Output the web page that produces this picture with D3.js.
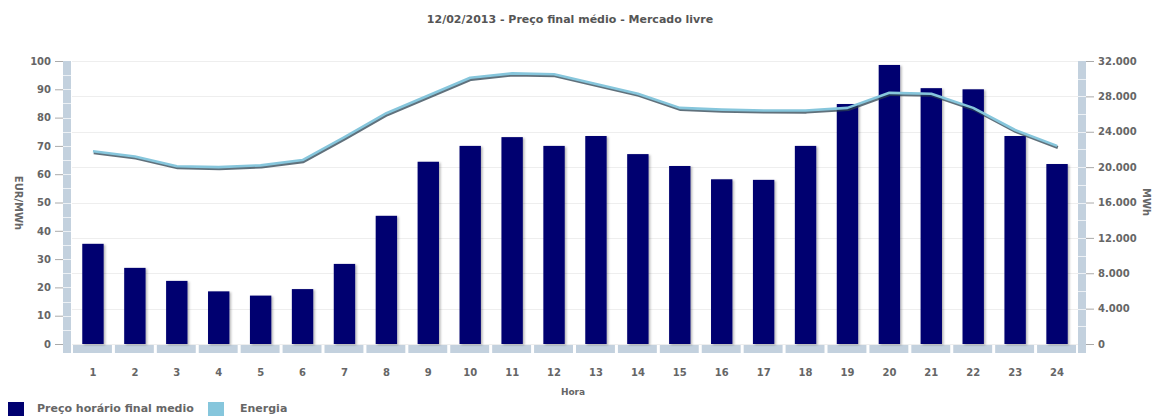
<!DOCTYPE html>
<html>
<head>
<meta charset="utf-8">
<script src="https://cdn.jsdelivr.net/npm/d3@7"></script>
<style>
  html, body { margin: 0; padding: 0; background: #fff; }
  svg { display: block; font-family: "DejaVu Sans", Verdana, sans-serif; }
</style>
</head>
<body>
<svg id="chart" width="1152" height="416"></svg>
<script>
// Hourly average final price (EUR/MWh) and energy (MWh), 12/02/2013
const hours = d3.range(1, 25).map(String);
const precoHorario = [35.4, 26.9, 22.3, 18.6, 17.1, 19.4, 28.3, 45.3, 64.4, 70.0, 73.1, 70.0,
                      73.5, 67.1, 62.9, 58.2, 58.0, 70.0, 84.8, 98.6, 90.4, 90.0, 73.5, 63.6];
const energia = [21800, 21200, 20100, 20000, 20200, 20800, 23400, 26100, 28100, 30100, 30600, 30500,
                 29400, 28300, 26700, 26500, 26400, 26400, 26700, 28400, 28300, 26700, 24200, 22400];
const leftTicks = [0, 10, 20, 30, 40, 50, 60, 70, 80, 90, 100];
const rightTicks = [0, 4000, 8000, 12000, 16000, 20000, 24000, 28000, 32000];

const titleText = "12/02/2013 - Preço final médio - Mercado livre";
const legendLabels = ["Preço horário final medio", "Energia"];

const barColor = "#000070";
const lineColor = "#86c6dc";
const bandColor = "#c3d1de";
const labelColor = "#666";

const svg = d3.select("#chart");
const plot = { left: 72, right: 1078, top: 61, bottom: 344 };

const x = d3.scaleBand().domain(hours).range([plot.left, plot.right])
  .paddingInner(0.49).paddingOuter(0.245);
const step = x.step();
const yL = d3.scaleLinear().domain([0, 100]).range([plot.bottom, plot.top]);
const yR = d3.scaleLinear().domain([0, 32000]).range([plot.bottom, plot.top]);

const defs = svg.append("defs");
const sh = defs.append("filter").attr("id", "barShadow")
  .attr("x", "-20%").attr("y", "-5%").attr("width", "150%").attr("height", "115%");
sh.append("feDropShadow").attr("dx", 1.5).attr("dy", 1).attr("stdDeviation", 1)
  .attr("flood-color", "#000").attr("flood-opacity", 0.3);

// Title
svg.append("text").attr("x", 570).attr("y", 23).attr("text-anchor", "middle")
  .attr("font-size", 11).attr("font-weight", "bold").attr("fill", "#555").text(titleText);

// Grid lines follow the right axis
svg.append("g").selectAll("line").data(rightTicks).join("line")
  .attr("x1", plot.left).attr("x2", plot.right)
  .attr("y1", d => Math.round(yR(d)) + 0.5).attr("y2", d => Math.round(yR(d)) + 0.5)
  .attr("stroke", "#eeeeee").attr("stroke-width", 1);

// Axis bands (left, right, bottom segments per hour)
const bandBottom = 353;
const bands = svg.append("g");
bands.append("rect").attr("x", 63).attr("y", plot.top).attr("width", 8)
  .attr("height", bandBottom - plot.top).attr("fill", bandColor);
bands.append("rect").attr("x", 1078).attr("y", plot.top).attr("width", 8)
  .attr("height", bandBottom - plot.top).attr("fill", bandColor);
bands.selectAll("rect.seg").data(hours).join("rect").attr("class", "seg")
  .attr("x", d => x(d) - step * 0.245 + 1).attr("y", 345)
  .attr("width", step - 3).attr("height", 8).attr("fill", bandColor);
// minor divisions inside the vertical bands
bands.append("g").selectAll("line").data(d3.range(5, 100, 5)).join("line")
  .attr("x1", 63).attr("x2", 71)
  .attr("y1", d => Math.round(yL(d)) + 0.5).attr("y2", d => Math.round(yL(d)) + 0.5)
  .attr("stroke", "#fff").attr("stroke-opacity", 0.7);
bands.append("g").selectAll("line").data(d3.range(2000, 32000, 2000)).join("line")
  .attr("x1", 1078).attr("x2", 1086)
  .attr("y1", d => Math.round(yR(d)) + 0.5).attr("y2", d => Math.round(yR(d)) + 0.5)
  .attr("stroke", "#fff").attr("stroke-opacity", 0.7);

// Left axis
const axL = svg.append("g").attr("transform", "translate(63,0)")
  .call(d3.axisLeft(yL).tickValues(leftTicks).tickSize(8).tickPadding(4));
// Right axis
const fmt = d => d3.format(",")(d).replace(/,/g, ".");
const axR = svg.append("g").attr("transform", "translate(1086,0)")
  .call(d3.axisRight(yR).tickValues(rightTicks).tickFormat(fmt).tickSize(8).tickPadding(4));
// Bottom axis
const axB = svg.append("g").attr("transform", `translate(0,${bandBottom})`)
  .call(d3.axisBottom(x).tickSize(0).tickPadding(16));

[axL, axR, axB].forEach(g => {
  g.select(".domain").remove();
  g.selectAll(".tick line").attr("stroke", "#aaa");
  g.selectAll(".tick text").attr("font-size", 10).attr("font-weight", "bold")
    .attr("fill", labelColor).attr("font-family", "DejaVu Sans, Verdana, sans-serif");
});

// Axis titles
svg.append("text").attr("transform", "translate(15,203) rotate(90)")
  .attr("text-anchor", "middle").attr("font-size", 10).attr("font-weight", "bold")
  .attr("fill", labelColor).text("EUR/MWh");
svg.append("text").attr("transform", "translate(1143,202) rotate(90)")
  .attr("text-anchor", "middle").attr("font-size", 10).attr("font-weight", "bold")
  .attr("fill", labelColor).text("MWh");
svg.append("text").attr("x", 573).attr("y", 395).attr("text-anchor", "middle")
  .attr("font-size", 9).attr("font-weight", "bold").attr("fill", labelColor).text("Hora");

// Bars
svg.append("g").attr("filter", "url(#barShadow)").selectAll("rect")
  .data(hours.map((h, i) => ({ h, v: precoHorario[i] }))).join("rect")
  .attr("x", d => x(d.h)).attr("width", x.bandwidth())
  .attr("y", d => yL(d.v)).attr("height", d => yL(0) - yL(d.v))
  .attr("fill", barColor);

// Energy line with its shadow
const pts = hours.map((h, i) => [x(h) + x.bandwidth() / 2, yR(energia[i])]);
const line = d3.line();
svg.append("path").attr("d", line(pts)).attr("fill", "none")
  .attr("stroke", "#2b4250").attr("stroke-width", 3).attr("stroke-opacity", 0.75)
  .attr("stroke-linejoin", "round").attr("transform", "translate(0.8,1.6)");
svg.append("path").attr("d", line(pts)).attr("fill", "none")
  .attr("stroke", lineColor).attr("stroke-width", 2.6)
  .attr("stroke-linejoin", "round");

// Legend
const legend = svg.append("g");
legend.append("rect").attr("x", 8).attr("y", 402).attr("width", 16).attr("height", 14).attr("fill", barColor);
legend.append("text").attr("x", 37).attr("y", 412).attr("font-size", 11).attr("font-weight", "bold")
  .attr("fill", labelColor).text(legendLabels[0]);
legend.append("rect").attr("x", 208).attr("y", 402).attr("width", 16).attr("height", 14).attr("fill", lineColor);
legend.append("text").attr("x", 240).attr("y", 412).attr("font-size", 11).attr("font-weight", "bold")
  .attr("fill", labelColor).text(legendLabels[1]);
</script>
</body>
</html>
